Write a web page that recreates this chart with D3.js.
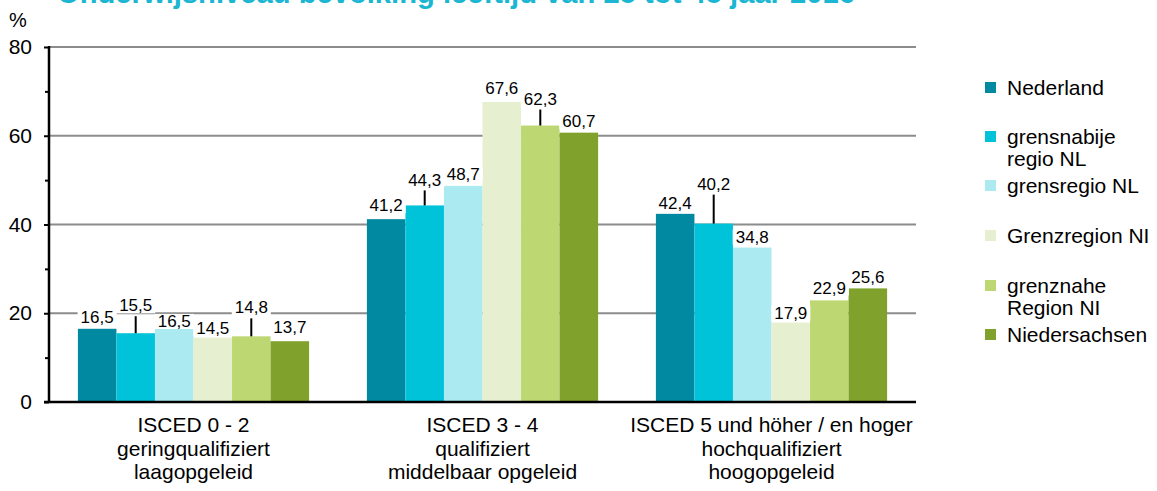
<!DOCTYPE html>
<html><head><meta charset="utf-8">
<script src="https://cdn.jsdelivr.net/npm/d3@7"></script>
<style>body{margin:0;background:#fff}svg{display:block;font-family:"Liberation Sans",Arial,sans-serif}</style>
</head><body>
<script>
const categories = [
  ["ISCED 0 - 2","geringqualifiziert","laagopgeleid"],
  ["ISCED 3 - 4","qualifiziert","middelbaar opgeleid"],
  ["ISCED 5 und höher / en hoger","hochqualifiziert","hoogopgeleid"]
];
const seriesNames = [["Nederland"],["grensnabije","regio NL"],["grensregio NL"],["Grenzregion NI"],["grenznahe","Region NI"],["Niedersachsen"]];
const nederland     = [16.5, 41.2, 42.4];
const grensnabije   = [15.5, 44.3, 40.2];
const grensregio    = [16.5, 48.7, 34.8];
const grenzregion   = [14.5, 67.6, 17.9];
const grenznahe     = [14.8, 62.3, 22.9];
const niedersachsen = [13.7, 60.7, 25.6];
const yTicks = [0, 20, 40, 60, 80];
const yMinorTicks = [10, 30, 50, 70];
const title = "Onderwijsniveau bevolking leeftijd van 25 tot 45 jaar 2016";

const series = [nederland, grensnabije, grensregio, grenzregion, grenznahe, niedersachsen];
const colors = ["#0089a0","#00c3da","#abeaf0","#e6f0d0","#bdd873","#80a22c"];
// label lift above bar top (px, label centre) and whether a leader line is drawn
const labelLift = [[12,28,8,10,29,14],[14,26,12,14,27,12],[11,40,11,10,13,12]];
const leader = [[0,1,0,0,1,0],[0,1,0,0,1,0],[0,1,0,0,0,0]];

const W = 1157, H = 491;
const svg = d3.select("body").append("svg").attr("width", W).attr("height", H);

const x0 = d3.scaleBand().domain(d3.range(categories.length)).range([49, 916]).paddingInner(0).paddingOuter(0);
const x1 = d3.scaleBand().domain(d3.range(series.length)).range([0, x0.bandwidth()]).paddingInner(0).paddingOuter(0.75);
const y = d3.scaleLinear().domain([0, 80]).range([402, 47]);

// title (mostly cut off at top, as in the original)
svg.append("text").attr("x", 57).attr("y", 3).attr("font-size", 29).attr("font-weight", "bold")
  .attr("fill", "#1bb6d2").attr("textLength", 798).attr("lengthAdjust", "spacingAndGlyphs").text(title);

// % unit
svg.append("text").attr("x", 9).attr("y", 27).attr("font-size", 20).attr("fill", "#000").text("%");

// gridlines
svg.append("g").selectAll("line").data(yTicks.filter(d => d > 0)).join("line")
  .attr("x1", 49).attr("x2", 916).attr("y1", d => y(d)).attr("y2", d => y(d))
  .attr("stroke", "#8c8c8c").attr("stroke-width", 2);

// bars
const groups = svg.append("g").selectAll("g").data(categories).join("g")
  .attr("transform", (d, i) => `translate(${x0(i)},0)`);
groups.each(function(cat, ci) {
  const g = d3.select(this);
  series.forEach((s, si) => {
    g.append("rect").attr("x", x1(si)).attr("width", x1.bandwidth())
      .attr("y", y(s[ci])).attr("height", y(0) - y(s[ci])).attr("fill", colors[si]);
  });
});

// labels
const fmt = v => d3.format(".1f")(v).replace(".", ",");
groups.each(function(cat, ci) {
  const g = d3.select(this);
  series.forEach((s, si) => {
    const cx = x1(si) + x1.bandwidth() / 2;
    const top = y(s[ci]);
    const cy = top - labelLift[ci][si];
    if (leader[ci][si]) {
      g.append("line").attr("x1", cx).attr("x2", cx).attr("y1", cy + 11).attr("y2", top)
        .attr("stroke", "#000").attr("stroke-width", 2);
    }
    const t = g.append("text").attr("x", cx).attr("y", cy).attr("dy", "0.36em")
      .attr("text-anchor", "middle").attr("font-size", 17).attr("fill", "#000").text(fmt(s[ci]));
    const bb = t.node().getBBox();
    g.insert("rect", () => t.node()).attr("x", bb.x - 3).attr("y", bb.y + 2).attr("width", bb.width + 6)
      .attr("height", bb.height - 4).attr("fill", "#fff");
  });
});

// y axis
const yAxis = d3.axisLeft(y).tickValues(yTicks).tickSize(5).tickFormat(d => d);
const ya = svg.append("g").attr("transform", "translate(49,0)").call(yAxis);
ya.select(".domain").remove();
ya.selectAll(".tick line").attr("stroke", "#000").attr("stroke-width", 2);
ya.selectAll(".tick text").attr("font-size", 21).attr("fill", "#000").attr("x", -17)
  .attr("font-family", "Liberation Sans, Arial, sans-serif");
const yMinor = d3.axisLeft(y).tickValues(yMinorTicks).tickSize(4).tickFormat("");
const ym = svg.append("g").attr("transform", "translate(49,0)").call(yMinor);
ym.select(".domain").remove();
ym.selectAll(".tick line").attr("stroke", "#000").attr("stroke-width", 2);
svg.append("line").attr("x1", 49).attr("x2", 49).attr("y1", y(80) - 1).attr("y2", y(0) + 1)
  .attr("stroke", "#000").attr("stroke-width", 2.5);
svg.append("line").attr("x1", 44).attr("x2", 916).attr("y1", y(0)).attr("y2", y(0))
  .attr("stroke", "#000").attr("stroke-width", 2.5);

// category labels
categories.forEach((lines, ci) => {
  const t = svg.append("text").attr("x", x0(ci) + x0.bandwidth() / 2).attr("y", 432)
    .attr("text-anchor", "middle").attr("font-size", 21).attr("fill", "#000");
  lines.forEach((l, li) => t.append("tspan").attr("x", x0(ci) + x0.bandwidth() / 2)
    .attr("y", 432 + li * 23.5).text(l));
});

// legend
const legendY = [87, 136, 185, 235, 285, 334];
seriesNames.forEach((lines, si) => {
  svg.append("rect").attr("x", 985).attr("y", legendY[si] - 5).attr("width", 11).attr("height", 11).attr("fill", colors[si]);
  lines.forEach((l, li) => svg.append("text").attr("x", 1007).attr("y", legendY[si] + li * 22).attr("dy", "0.36em")
    .attr("font-size", 21).attr("fill", "#000").text(l));
});
</script>
</body></html>
